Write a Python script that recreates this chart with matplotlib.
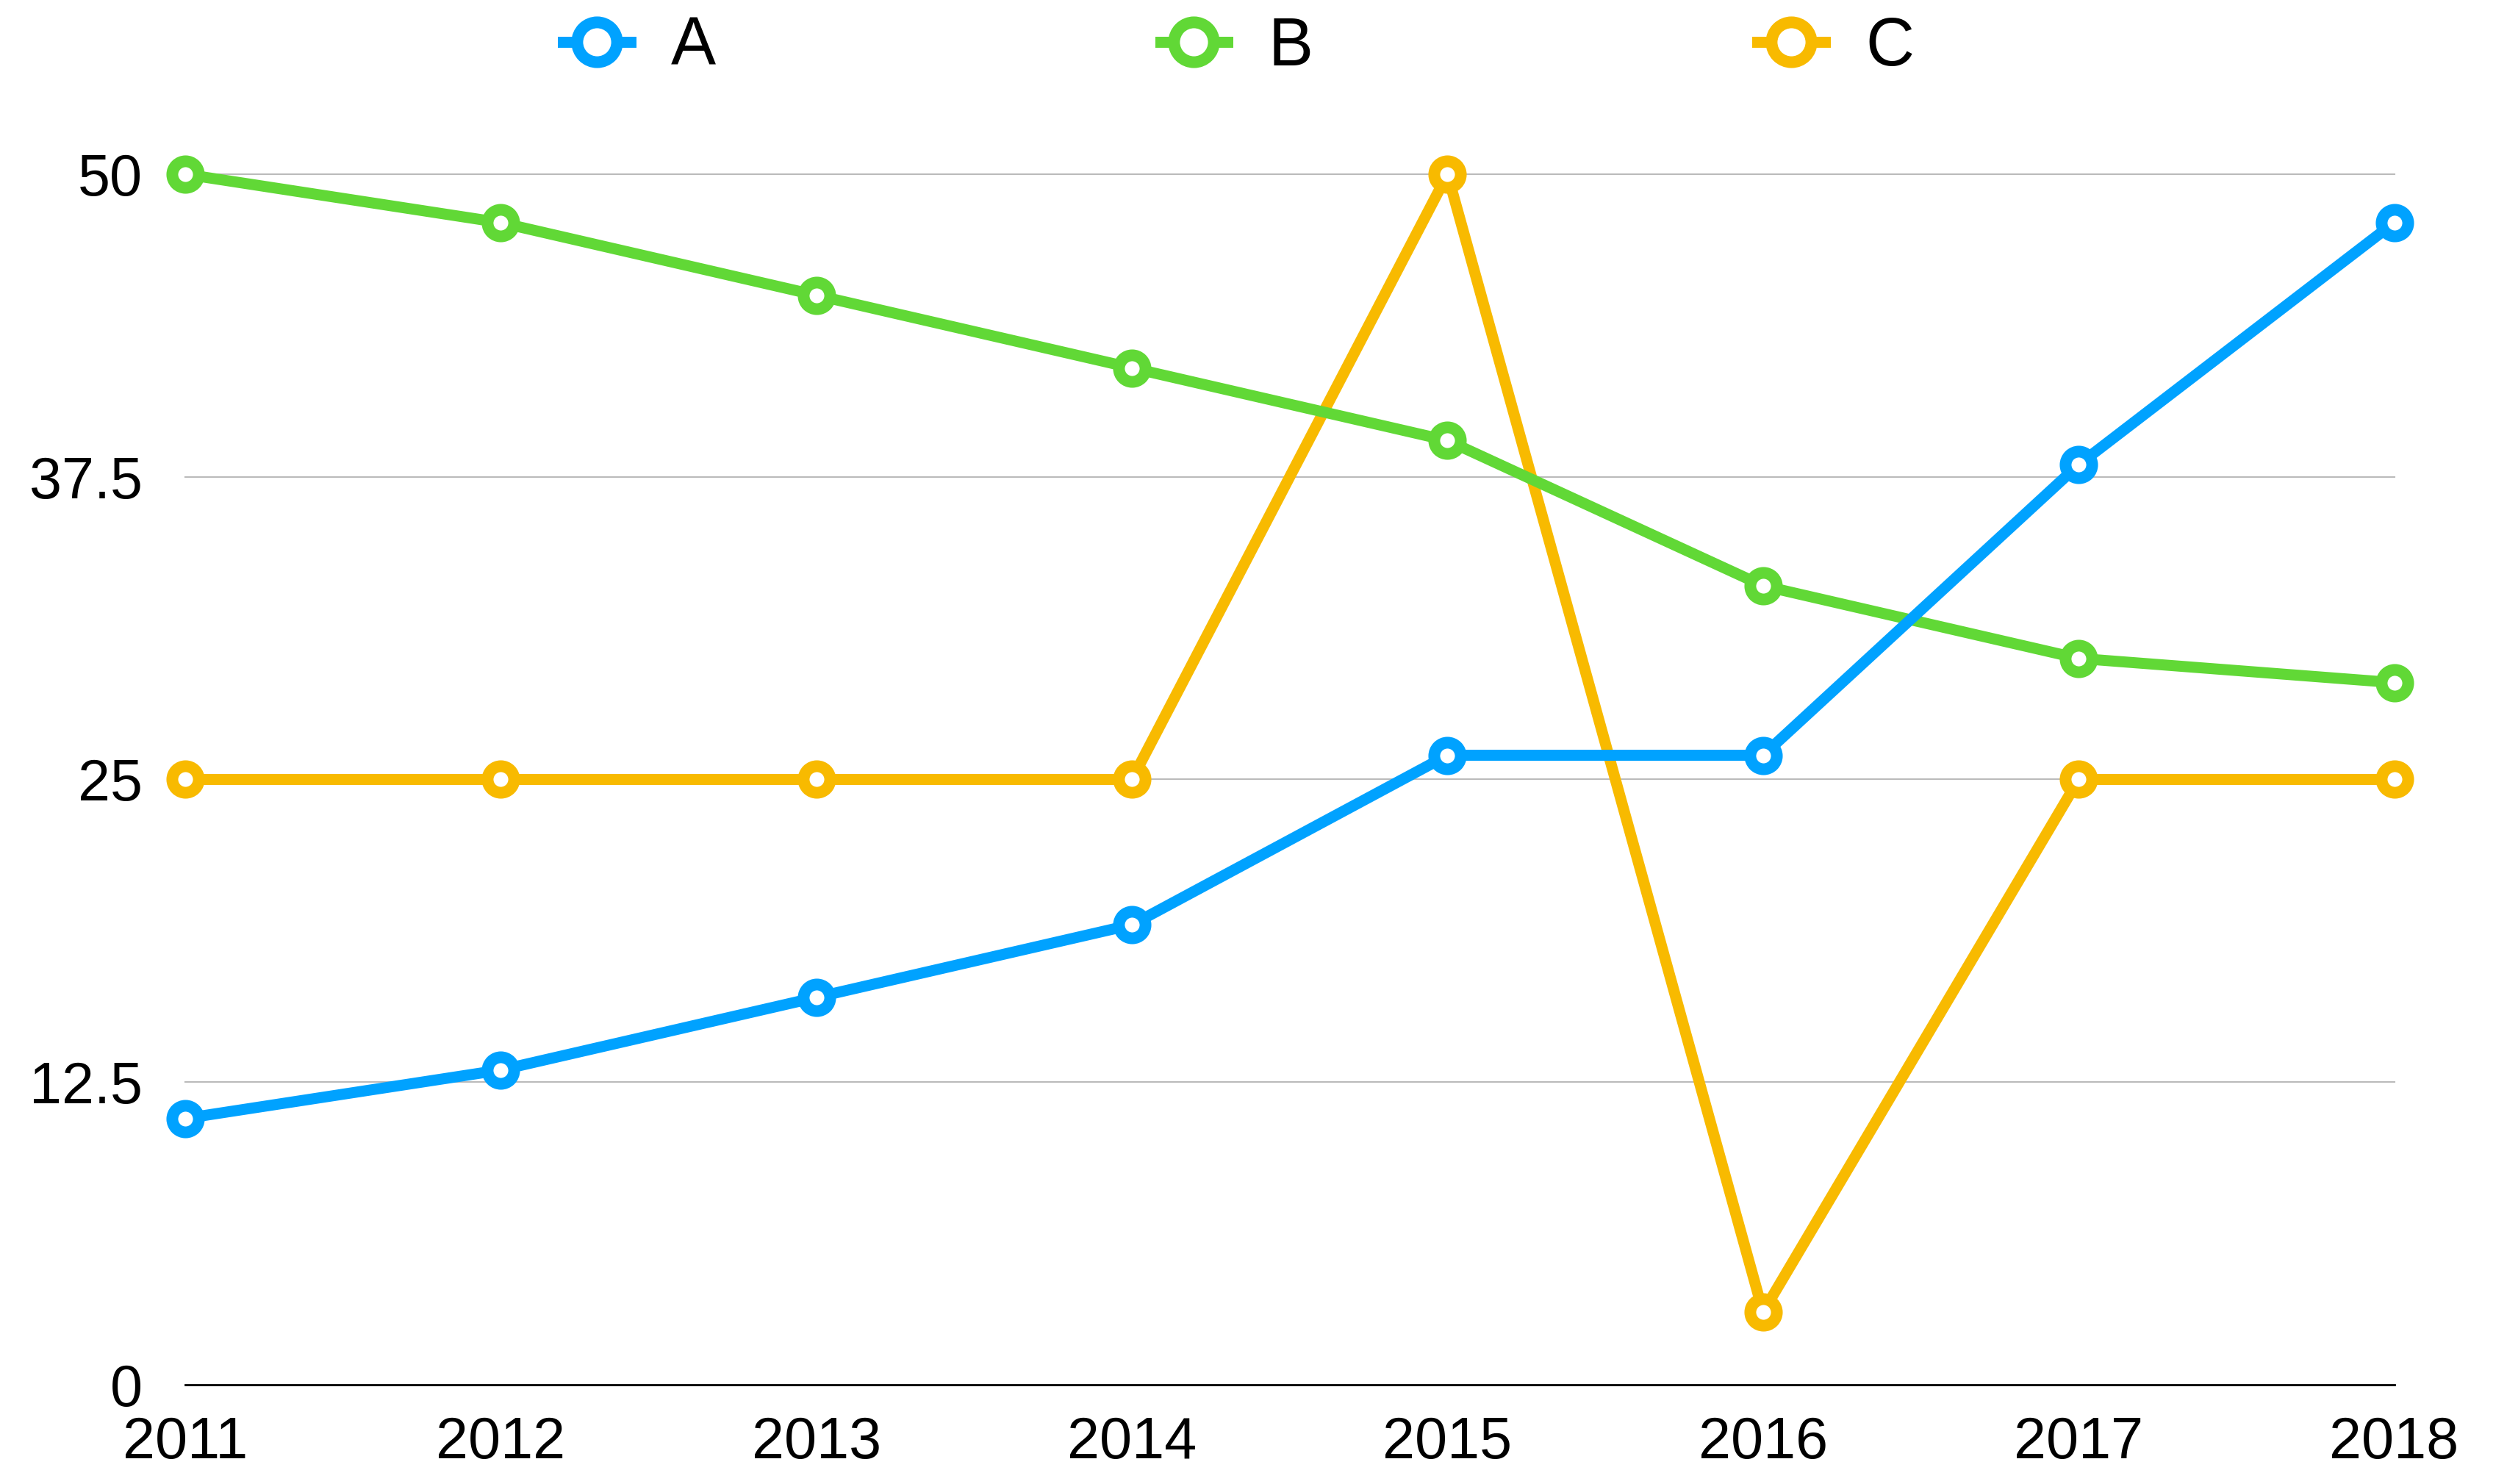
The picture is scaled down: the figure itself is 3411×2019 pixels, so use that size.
import matplotlib.pyplot as plt

years = [2011, 2012, 2013, 2014, 2015, 2016, 2017, 2018]
series_a = [11, 13, 16, 19, 26, 26, 38, 48]
series_b = [50, 48, 45, 42, 39, 33, 30, 29]
series_c = [25, 25, 25, 25, 50, 3, 25, 25]
y_ticks = [0, 12.5, 25, 37.5, 50]
y_tick_labels = ["0", "12.5", "25", "37.5", "50"]

colors = {"A": "#00A2FF", "B": "#61D836", "C": "#F8BA00"}

plt.rcParams["font.family"] = ["Liberation Sans", "DejaVu Sans"]

DPI = 100
fig = plt.figure(figsize=(34.11, 20.19), dpi=DPI)
ax = fig.add_axes([0.0739, 0.0669, 0.955 - 0.0739, 0.8826 - 0.0669])

line_w = 10.8
marker_kw = dict(marker="o", markersize=26, markeredgewidth=11.5,
                 markerfacecolor="white", clip_on=False)

# draw order: C at the bottom, A on top
handles = {}
for name, values, z in [("C", series_c, 3), ("B", series_b, 4), ("A", series_a, 5)]:
    (h,) = ax.plot(years, values, color=colors[name], linewidth=line_w,
                   zorder=z, label=name, **marker_kw)
    handles[name] = h

ax.set_xlim(years[0], years[-1])
ax.set_ylim(0, 50)
ax.set_xticks(years)
ax.set_xticklabels([str(y) for y in years])
ax.set_yticks(y_ticks)
ax.set_yticklabels(y_tick_labels)

for val in y_ticks[1:]:
    ax.axhline(val, color="#BBBBBB", linewidth=1.5, zorder=1, clip_on=False)
ax.axhline(0, color="black", linewidth=2, zorder=2, clip_on=False)

for side in ["top", "right", "left", "bottom"]:
    ax.spines[side].set_visible(False)

ax.tick_params(axis="both", length=0, labelsize=57)
ax.tick_params(axis="y", pad=42)
ax.tick_params(axis="x", pad=30)

fig.legend(
    [handles["A"], handles["B"], handles["C"]],
    ["A", "B", "C"],
    loc="upper center",
    bbox_to_anchor=(0.494, 1.03),
    ncol=3,
    frameon=False,
    fontsize=66,
    markerscale=1.5,
    handlelength=1.0,
    handletextpad=0.6,
    columnspacing=6.6,
)

fig.savefig("out.png", dpi=DPI, facecolor="white")
